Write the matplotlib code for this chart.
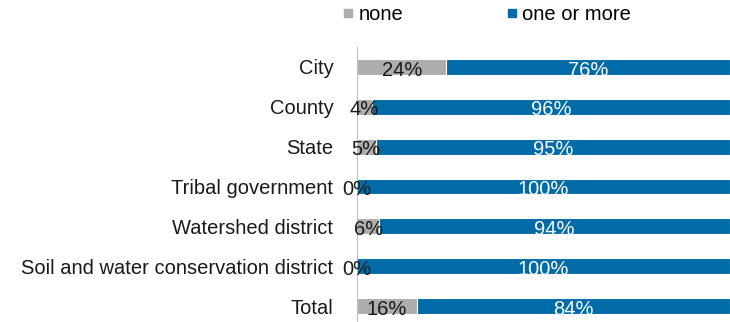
import numpy as np
import matplotlib.pyplot as plt
from matplotlib.lines import Line2D

plt.rcParams['font.family'] = ['Liberation Sans', 'DejaVu Sans']

categories = ['City', 'County', 'State', 'Tribal government', 'Watershed district',
              'Soil and water conservation district', 'Total']
none_pct = [24, 4, 5, 0, 6, 0, 16]
more_pct = [76, 96, 95, 100, 94, 100, 84]

c_none = '#ADADAD'
c_more = '#006BA6'
fs = 14.5

fig = plt.figure(figsize=(7.3, 3.22), dpi=100)
ax = fig.add_axes([0.489, -0.0124, 0.511, 0.8665])

y = np.arange(len(categories))
ax.barh(y, none_pct, height=0.4, color=c_none, edgecolor='white', linewidth=0.8)
ax.barh(y, more_pct, left=none_pct, height=0.4, color=c_more, edgecolor='white', linewidth=0.8)

# percent labels in the middle of each segment
for i in range(len(categories)):
    ax.text(none_pct[i] / 2, i + 0.08, f'{none_pct[i]}%', ha='center', va='center',
            fontsize=fs, color='#1a1a1a')
    ax.text(none_pct[i] + more_pct[i] / 2, i + 0.08, f'{more_pct[i]}%', ha='center',
            va='center', fontsize=fs, color='white')

ax.set_xlim(0, 100)
ax.set_ylim(len(categories) - 0.5, -0.5)
ax.set_yticks(y)
ax.set_yticklabels(categories, fontsize=fs, color='#1a1a1a')
ax.tick_params(axis='y', length=0, pad=17)
ax.set_xticks([])
for s in ['top', 'right', 'bottom']:
    ax.spines[s].set_visible(False)
ax.spines['left'].set_color('#BFBFBF')

handles = [Line2D([], [], marker='s', linestyle='None', markersize=6, color=c_none),
           Line2D([], [], marker='s', linestyle='None', markersize=6, color=c_more)]
fig.legend(handles, ['none', 'one or more'], loc='center left', bbox_to_anchor=(0.4495, 0.955),
           ncol=2, frameon=False, fontsize=fs, handletextpad=0.0, columnspacing=4.9,
           handlelength=1.0, borderpad=0)

fig.savefig('out.png', dpi=100)
